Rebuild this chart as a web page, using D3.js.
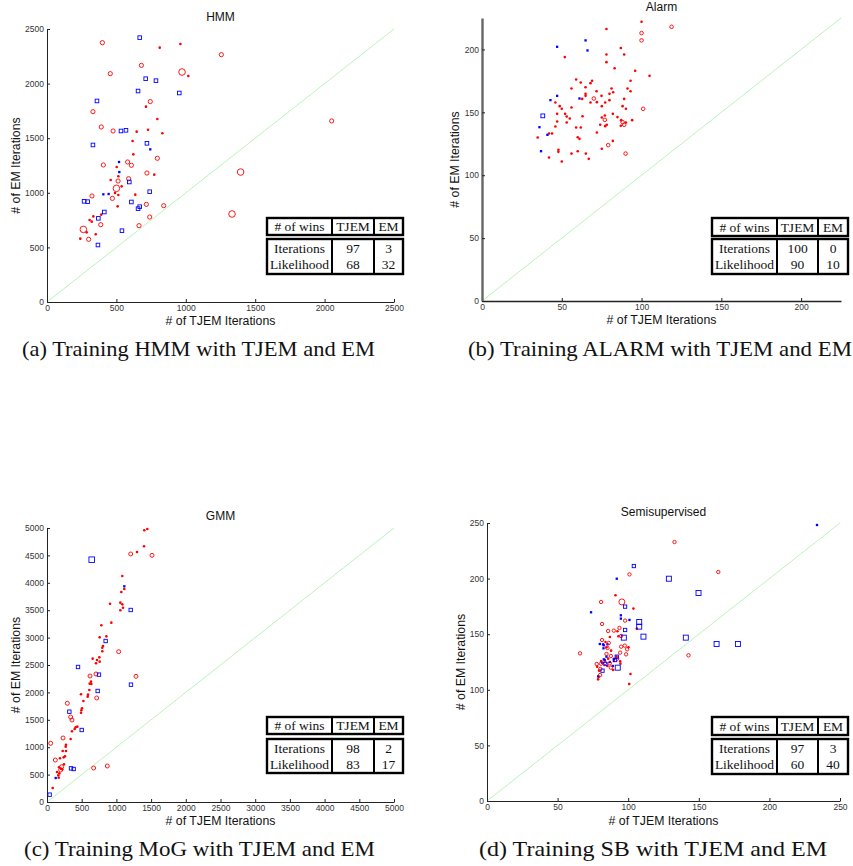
<!DOCTYPE html>
<html>
<head>
<meta charset="utf-8">
<script src="https://cdn.jsdelivr.net/npm/d3@7"></script>
<style>
  body { margin: 0; background: #fff; }
</style>
</head>
<body>
<script>
// ---- data ----
const tableHead = ['# of wins', 'TJEM', 'EM']
const tableRows = ['Iterations', 'Likelihood']
const hmmWins = [[97, 3], [68, 32]]
const alarmWins = [[100, 0], [90, 10]]
const gmmWins = [[98, 2], [83, 17]]
const semiWins = [[97, 3], [60, 40]]

// (a) HMM
const hmmRedCircle = [[399,2375],[456,2091],[680,2167],[1256,2265],[744,1835],[331,1743],[391,1603],[476,1566],[795,1316],[581,1282],[608,1252],[406,1255],[720,1181],[588,1129],[512,1108],[324,971],[471,949],[716,894],[841,882],[387,708],[740,778],[663,699],[300,574],[2051,1658]]
const hmmRedCircleBig = [[973,2106],[500,1041],[262,665],[1395,1190],[1333,806]]
const hmmRedDot = [[812,2329],[961,2363],[1018,2070],[713,1789],[795,1676],[728,1578],[646,1560],[831,1545],[617,1474],[622,1352],[502,1236],[773,1166],[514,1151],[459,1117],[538,1059],[490,998],[514,980],[636,983],[509,876],[391,800],[334,784],[307,751],[322,736],[286,638],[351,620],[240,580]]
const hmmBlueSquare = [[668,2421],[711,2045],[785,2027],[656,1932],[953,1914],[360,1841],[533,1566],[569,1572],[331,1438],[720,1453],[593,1099],[740,1010],[267,922],[293,919],[608,916],[668,873],[656,855],[413,824],[370,766],[540,653],[367,522]]
const hmmBlueSquareBig = []
const hmmBlueDot = [[744,1398],[519,1282],[521,1190],[406,986],[444,989]]

// (b) Alarm
const alarmRedCircle = [[118.8,218],[100,213],[100,207.2],[70.1,161],[101,152.8],[77,144],[88.1,142.2],[89.1,140.1],[79.1,123.9],[90,117.2]]
const alarmRedCircleBig = []
const alarmRedDot = [[100,222],[78,216.2],[87,201.1],[51.9,193.9],[78,196],[89.1,196],[78,189.9],[83.1,185.1],[96,183],[105,179],[59,176.1],[61.9,173.7],[69,175.1],[68,173.2],[93.1,175.1],[64.9,170],[56.1,169],[91.2,169],[81.2,169],[82.2,166],[71.8,166.8],[93.1,166.8],[79.9,164.7],[74.9,163.1],[64.9,164.7],[64.9,163.1],[62.8,160.7],[89.1,160.7],[79.9,159.7],[72,158.1],[68,157.8],[46,157.8],[77.2,157.8],[88.1,154.9],[90.2,152.8],[75.1,154.9],[56.1,153.8],[48.7,154.9],[50,152.8],[82,148.8],[47.1,148.8],[52.1,148.8],[53.1,146.7],[55,145.1],[63,146.9],[77,147.5],[75.1,145.9],[84.9,146.2],[94.1,143.8],[87.2,143.8],[47.1,142.7],[53.1,141.9],[74.1,140.1],[77.2,139],[78.2,140.1],[87,139.3],[90.2,141.9],[46,138.7],[59,137.9],[61.9,137.9],[72,134],[42,133.2],[43.9,133.2],[34.9,130],[60,130.2],[61.1,128.9],[82,127.3],[75.1,121],[47.9,120.2],[47.9,118.6],[60,119.1],[56.1,117.2],[65.1,117.2],[42,114.1],[66.9,113],[50,110.9]]
const alarmBlueSquare = [[38.1,147.2]]
const alarmBlueSquareBig = []
const alarmBlueDot = [[64.9,207.2],[47.1,202.1],[66.1,199.2],[47.1,163.1],[61.1,161],[42.9,159.7],[36,138.2],[41,132.1],[37,119.1]]

// (c) GMM
const gmmRedCircle = [[1206,4526],[1513,4501],[1033,2743],[706,2336],[620,2299],[1282,2293],[716,1898],[293,1801],[341,1551],[360,1496],[231,1168],[53,1071],[120,766],[211,645],[197,584],[672,620],[869,657]]
const gmmRedCircleBig = []
const gmmRedDot = [[1446,4982],[1402,4958],[1398,4666],[1297,4562],[1085,4124],[1114,3887],[1071,3832],[1057,3638],[1085,3607],[1095,3546],[1057,3498],[908,3619],[927,3273],[783,3224],[855,3023],[759,3005],[807,2847],[797,2816],[797,2750],[754,2640],[658,2616],[720,2591],[706,2531],[759,2561],[634,2196],[615,2160],[639,2153],[490,1965],[610,2044],[591,1959],[586,1922],[524,1843],[504,1709],[495,1673],[490,1630],[437,1375],[413,1363],[399,1332],[360,1290],[341,1150],[274,1046],[269,1010],[226,931],[274,931],[259,833],[240,815],[187,797],[202,608],[221,596],[173,633],[245,687],[144,547],[178,523],[163,487],[168,444],[82,255]]
const gmmBlueSquare = [[1206,3504],[845,2938],[447,2464],[749,2324],[1210,2141],[730,2026],[322,1648],[500,1314],[346,614],[384,602],[38,134]]
const gmmBlueSquareBig = [[644,4422]]
const gmmBlueDot = [[1114,3936],[125,438]]

// (d) Semisupervised
const semiRedCircle = [[132.8,232.9],[163.8,205.9],[100.9,203.8],[80.8,179],[81.5,159.2],[97.8,162.2],[93.8,155.6],[89.8,153.2],[85.8,152.9],[95,148.4],[81.5,144.8],[86.2,142.1],[85.3,137.6],[95,138.8],[97.6,139.7],[94.3,133.4],[99.2,136.4],[98.5,131.9],[65.9,132.8],[87.7,130.4],[84.6,132.2],[77.7,123.2],[80.8,123.5],[83.6,124.1],[87,123.8],[92.2,128],[87.7,119.9],[80.3,118.7],[80.1,113.3],[142.7,131]]
const semiRedCircleBig = [[95.5,179]]
const semiRedDot = [[91,185],[103.7,173],[106.1,155],[92.4,152.6],[93.1,148.1],[87,147.5],[83.9,143],[84.6,138.2],[87.9,135.2],[100.2,138.2],[91.7,129.8],[85.8,128],[80.8,125.9],[85.3,121.4],[89.8,125.9],[94.3,125.6],[94.5,123.5],[89.3,117.8],[78,120.8],[79.4,117.2],[79.2,111.8],[78.7,109.4],[101.6,114.2],[100.7,105.2]]
const semiBlueSquare = [[104,211.3],[97.8,174.8],[97.8,153.8],[91.9,129.8],[83.9,123.2],[90.7,126.8],[81.8,117.2]]
const semiBlueSquareBig = [[107.8,161],[107.8,156.8],[110.8,147.8],[96.9,146.9],[140.8,146.9],[162.6,141.2],[177.7,141.2],[128.8,199.9],[149.8,187.1],[92.6,119.9]]
const semiBlueDot = [[233.7,248.2],[91.9,199.9],[73.7,169.7],[94.8,167],[94.8,164],[100.9,162.8],[85.3,140.9],[82.2,140.9],[79.9,141.2],[82.7,140],[82.5,137.3],[84.6,129.8],[82.7,127.4],[89.8,127.7],[83.4,126.8],[81.5,124.4],[87,125],[89.1,121.4],[78.7,112.1]]

// ---- layout ----
const SANS = '"Liberation Sans", Arial, Helvetica, sans-serif'
const SERIF = '"Liberation Serif", "Times New Roman", serif'

const panels = [
  { title: 'HMM', max: 2500, step: 500, left: 47, right: 394, top: 29, bottom: 302, titleY: 21,
    ylabX: 20, xlabY: 325, wins: hmmWins,
    table: [267, 332, 374, 403, 218, 235, 239, 274],
    caption: '(a)  Training HMM with TJEM and EM', cap: [22, 375, 356],
    sets: [hmmRedCircle, hmmRedCircleBig, hmmRedDot, hmmBlueSquare, hmmBlueSquareBig, hmmBlueDot],
    size: { c: 2.1, cb: 3.3, s: 3.6, sb: 5 } },
  { title: 'Alarm', max: 225, step: 50, left: 482, right: 841, top: 18, bottom: 301, titleY: 11,
    ylabX: 459, xlabY: 324, wins: alarmWins, thick: true,
    table: [712, 777, 818, 848, 218, 236, 239, 274],
    caption: '(b)  Training ALARM with TJEM and EM', cap: [468, 852, 356],
    sets: [alarmRedCircle, alarmRedCircleBig, alarmRedDot, alarmBlueSquare, alarmBlueSquareBig, alarmBlueDot],
    size: { c: 1.8, cb: 3, s: 3.8, sb: 5 } },
  { title: 'GMM', max: 5000, step: 500, left: 47, right: 394, top: 528, bottom: 802, titleY: 520,
    ylabX: 20, xlabY: 825, wins: gmmWins,
    table: [267, 332, 374, 403, 717, 734, 739, 773],
    caption: '(c)  Training MoG with TJEM and EM', cap: [24, 375, 856],
    sets: [gmmRedCircle, gmmRedCircleBig, gmmRedDot, gmmBlueSquare, gmmBlueSquareBig, gmmBlueDot],
    size: { c: 2, cb: 3.2, s: 3.4, sb: 5.5 } },
  { title: 'Semisupervised', max: 250, step: 50, left: 487, right: 840, top: 523, bottom: 801, titleY: 516,
    ylabX: 465, xlabY: 825, wins: semiWins,
    table: [712, 777, 818, 848, 717, 735, 739, 774],
    caption: '(d)  Training SB with TJEM and EM', cap: [479, 827, 856],
    sets: [semiRedCircle, semiRedCircleBig, semiRedDot, semiBlueSquare, semiBlueSquareBig, semiBlueDot],
    size: { c: 1.7, cb: 3, s: 3.3, sb: 5 } }
]

const svg = d3.select('body').append('svg')
  .attr('width', 853).attr('height', 866)

panels.forEach(p => {
  const x = d3.scaleLinear().domain([0, p.max]).range([p.left, p.right])
  const y = d3.scaleLinear().domain([0, p.max]).range([p.bottom, p.top])
  const ticks = d3.range(0, p.max + 1, p.step)
  const g = svg.append('g')

  // diagonal y = x
  g.append('line')
    .attr('x1', x(0)).attr('y1', y(0)).attr('x2', x(p.max)).attr('y2', y(p.max))
    .attr('stroke', '#a6f2a6').attr('stroke-width', 0.8)

  // axes, ticks pointing inward like matlab
  const xa = g.append('g').attr('transform', `translate(0,${p.bottom})`)
    .call(d3.axisBottom(x).tickValues(ticks).tickFormat(d3.format('d'))
      .tickSizeInner(-3).tickSizeOuter(0).tickPadding(3))
  const ya = g.append('g').attr('transform', `translate(${p.left},0)`)
    .call(d3.axisLeft(y).tickValues(ticks).tickFormat(d3.format('d'))
      .tickSizeInner(-3).tickSizeOuter(0).tickPadding(3))
  ;[xa, ya].forEach(a => {
    a.selectAll('text').style('font-size', '8.5px').style('font-family', SANS).attr('fill', '#333')
    a.selectAll('line').attr('stroke', '#222')
    a.select('.domain').attr('stroke', '#222')
  })
  if (p.thick) {
    ya.select('.domain').attr('stroke', '#666').attr('stroke-width', 2.4)
    xa.select('.domain').attr('stroke-width', 1.4)
  }

  const label = (t, size) => g.append('text').style('font-family', SANS).style('font-size', size + 'px')
    .attr('text-anchor', 'middle').attr('fill', '#111').text(t)
  label(p.title, 12).attr('x', (p.left + p.right) / 2).attr('y', p.titleY)
  label('# of TJEM Iterations', 12.3).attr('x', (p.left + p.right) / 2).attr('y', p.xlabY)
  label('# of EM Iterations', 12.3)
    .attr('transform', `translate(${p.ylabX},${(p.top + p.bottom) / 2}) rotate(-90)`)

  // markers
  const [rc, rcb, rd, bs, bsb, bd] = p.sets
  const circ = (data, r, fill) => g.append('g').selectAll('circle').data(data).enter().append('circle')
    .attr('cx', d => x(d[0])).attr('cy', d => y(d[1])).attr('r', r)
    .attr('fill', fill ? 'red' : 'none').attr('stroke', 'red').attr('stroke-width', fill ? 0 : 0.9)
  const sq = (data, s, fill) => g.append('g').selectAll('rect').data(data).enter().append('rect')
    .attr('x', d => x(d[0]) - s / 2).attr('y', d => y(d[1]) - s / 2).attr('width', s).attr('height', s)
    .attr('fill', fill ? 'blue' : 'none').attr('stroke', 'blue').attr('stroke-width', fill ? 0 : 0.9)
  circ(rd, 1.3, true)
  sq(bd, 2.3, true)
  circ(rc, p.size.c, false)
  circ(rcb, p.size.cb, false)
  sq(bs, p.size.s, false)
  sq(bsb, p.size.sb, false)

  // wins table
  const [tx0, tc1, tc2, tx1, h0, h1, b0, b1] = p.table
  const tg = g.append('g')
  ;[[h0, h1], [b0, b1]].forEach(([a, b]) => {
    tg.append('rect').attr('x', tx0).attr('y', a).attr('width', tx1 - tx0).attr('height', b - a)
      .attr('fill', 'white').attr('stroke', '#000').attr('stroke-width', 2.4)
    ;[tc1, tc2].forEach(cx => tg.append('line').attr('x1', cx).attr('x2', cx).attr('y1', a).attr('y2', b)
      .attr('stroke', '#000').attr('stroke-width', 2))
  })
  const mids = [(tx0 + tc1) / 2, (tc1 + tc2) / 2, (tc2 + tx1) / 2]
  const cell = (t, cx, cy) => tg.append('text').attr('x', cx).attr('y', cy)
    .attr('text-anchor', 'middle').style('font-family', SERIF).style('font-size', '13.5px')
    .attr('fill', '#111').text(t)
  tableHead.forEach((t, i) => cell(t, mids[i], (h0 + h1) / 2 + 4.6))
  tableRows.forEach((t, r) => {
    const ty = b0 + 13.5 + r * 16
    ;[t, p.wins[r][0], p.wins[r][1]].forEach((c, i) => cell(c, mids[i], ty))
  })

  // sub caption
  svg.append('text').attr('x', p.cap[0]).attr('y', p.cap[2])
    .style('font-family', SERIF).style('font-size', '22px')
    .attr('textLength', p.cap[1] - p.cap[0]).attr('lengthAdjust', 'spacingAndGlyphs')
    .attr('fill', '#111').text(p.caption)
})
</script>
</body>
</html>
